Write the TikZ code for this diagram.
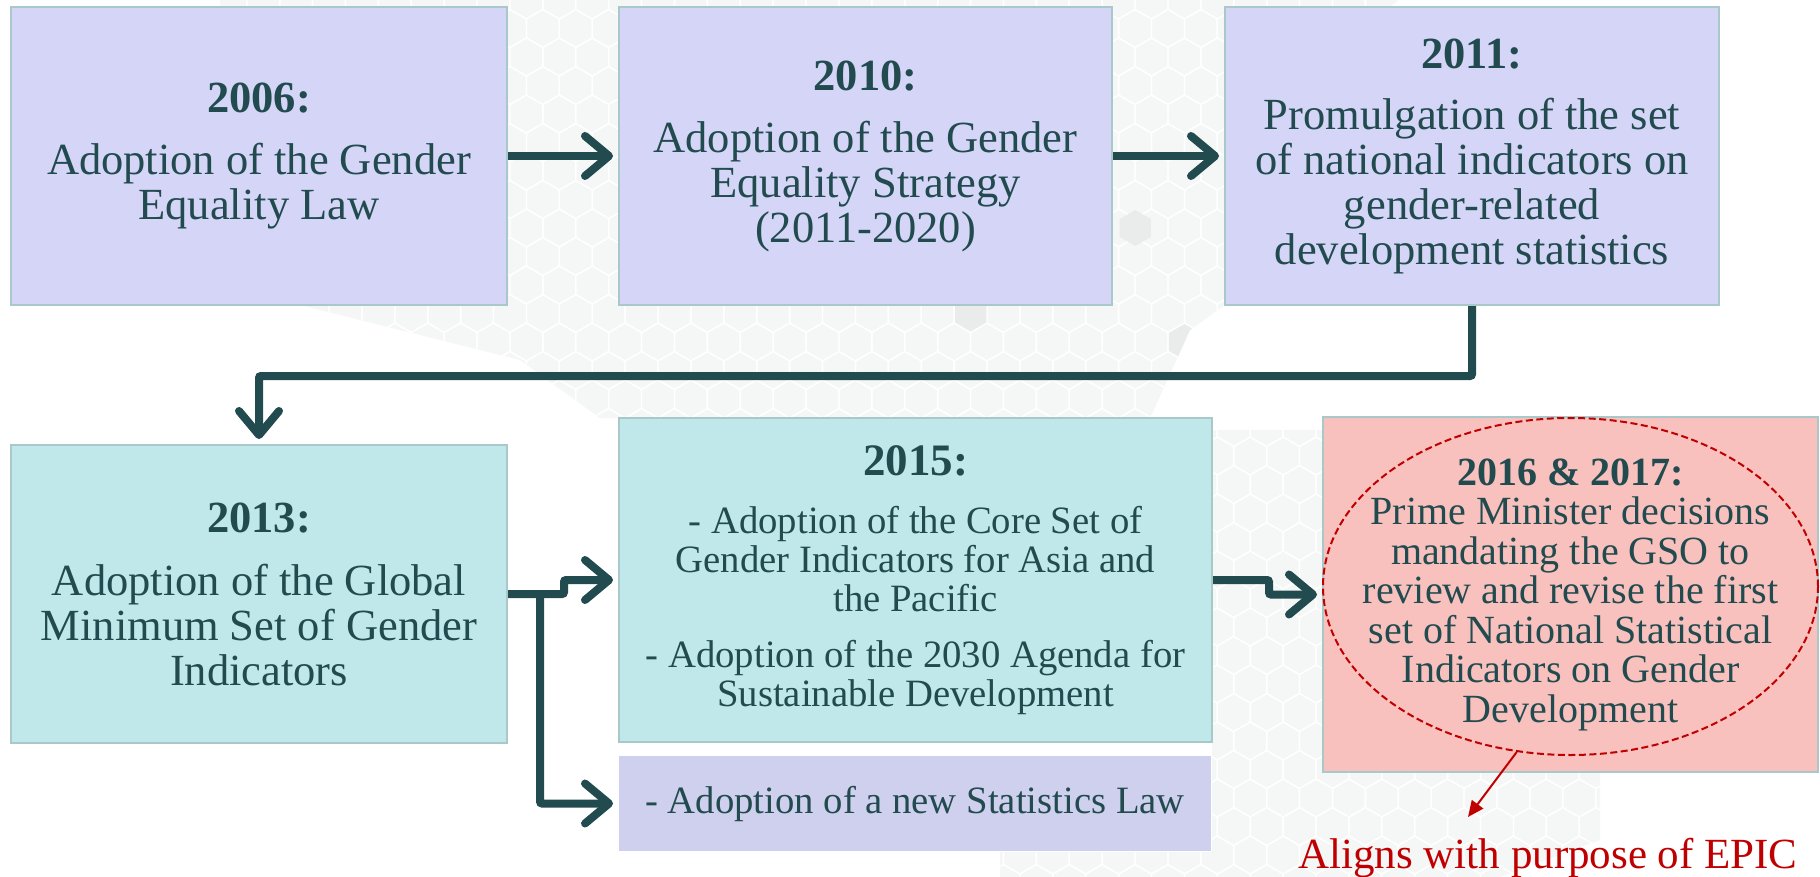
\documentclass[tikz,border=0pt]{standalone}
\usepackage{fontspec}
\setmainfont{Liberation Serif}
\usetikzlibrary{arrows.meta,calc,shapes.geometric}
\definecolor{txt}{RGB}{34,75,79}
\definecolor{lav}{RGB}{213,213,247}
\definecolor{cya}{RGB}{192,232,234}
\definecolor{lavb}{RGB}{207,207,238}
\definecolor{pnk}{RGB}{248,193,190}
\definecolor{bord}{RGB}{168,200,202}
\definecolor{redc}{RGB}{192,0,0}
\definecolor{hexbg}{RGB}{245,246,246}
\definecolor{hexdk}{RGB}{234,235,235}
\begin{document}
\begin{tikzpicture}[x=1pt,y=-1pt,
  box/.style={rectangle, draw=bord, line width=2pt, inner sep=0pt, align=center, text=txt,
              font=\fontsize{44.5}{45}\selectfont},
  conn/.style={draw=txt, line width=8pt, -{Straight Barb[length=24pt,width=40pt,round]},
               shorten >=5pt, rounded corners=2pt},
  redarrow/.style={draw=redc, line width=2pt, -{Triangle[length=16pt,width=14pt]}},
  hexcell/.style={draw=white, line width=1.3pt}
]
\useasboundingbox (0,0) rectangle (1820,877);
\fill[white] (0,0) rectangle (1820,877);

% faint hexagon background
\begin{scope}
  \clip (220,0) -- (1400,0) -- (1225,120) -- (1225,305) -- (1190,330) -- (1150,418)
        -- (600,418) -- (520,360) -- (400,330) -- (300,305) -- (230,200) -- cycle;
  \fill[hexbg] (0,0) rectangle (1820,877);
  \foreach \j in {0,...,15} {
    \foreach \i in {6,...,43} {
      \pgfmathsetmacro\cx{\i*32.9+mod(\j,2)*16.45}
      \pgfmathsetmacro\cy{\j*28.5}
      \draw[hexcell, shift={(\cx,\cy)}] (90:19) -- (150:19) -- (210:19) -- (270:19) -- (330:19) -- (30:19) -- cycle;
    }
  }
  \foreach \cx/\cy in {1135.2/228, 970.7/313.5, 1184.5/342} {
    \fill[hexdk, shift={(\cx,\cy)}] (90:18) -- (150:18) -- (210:18) -- (270:18) -- (330:18) -- (30:18) -- cycle;
  }
\end{scope}
\begin{scope}
  \clip (1212,430) -- (1323,430) -- (1323,772) -- (1600,772) -- (1600,840) -- (1500,877)
        -- (1000,877) -- (1000,852) -- (1212,852) -- cycle;
  \fill[hexbg] (0,0) rectangle (1820,877);
  \foreach \j in {14,...,31} {
    \foreach \i in {29,...,49} {
      \pgfmathsetmacro\cx{\i*32.9+mod(\j,2)*16.45}
      \pgfmathsetmacro\cy{\j*28.5}
      \draw[hexcell, shift={(\cx,\cy)}] (90:19) -- (150:19) -- (210:19) -- (270:19) -- (330:19) -- (30:19) -- cycle;
    }
  }
\end{scope}

% top row
\node[box, fill=lav, minimum width=496pt, minimum height=298pt] (b1) at (259,156)
  {\textbf{2006:}\\[17pt]Adoption of the Gender\\Equality Law};
\node[box, fill=lav, minimum width=493pt, minimum height=298pt] (b2) at (865.5,156)
  {\textbf{2010:}\\[17pt]Adoption of the Gender\\Equality Strategy\\(2011-2020)};
\node[box, fill=lav, minimum width=494pt, minimum height=298pt] (b3) at (1472,156)
  {\textbf{2011:}\\[16pt]Promulgation of the set\\of national indicators on\\gender-related\\development statistics};

% bottom row
\node[box, fill=cya, minimum width=496pt, minimum height=298pt] (b4) at (259,594)
  {\textbf{2013:}\\[18pt]Adoption of the Global\\Minimum Set of Gender\\Indicators};
\node[box, fill=cya, minimum width=593pt, minimum height=324pt, font=\fontsize{38.7}{39}\selectfont] (b5) at (915.5,580)
  {{\fontsize{45}{39}\selectfont\textbf{2015:}}\\[19pt]- Adoption of the Core Set of\\Gender Indicators for Asia and\\the Pacific\\[17pt]- Adoption of the 2030 Agenda for\\Sustainable Development};
\node[box, draw=none, fill=lavb, minimum width=592pt, minimum height=95pt, font=\fontsize{38.7}{39}\selectfont] (b6) at (915,803.5)
  {- Adoption of a new Statistics Law};
\node[box, fill=pnk, minimum width=495pt, minimum height=355pt, font=\fontsize{40}{39.5}\selectfont] (b7) at (1570.5,594.5)
  {\textbf{2016 \& 2017:}\\Prime Minister decisions\\mandating the GSO to\\review and revise the first\\set of National Statistical\\Indicators on Gender\\Development};
\node[ellipse, draw=redc, line width=2pt, dash pattern=on 7pt off 3.5pt, minimum width=495pt, minimum height=337pt, inner sep=0pt] (ell) at (1570.5,586.5) {};

\node[anchor=base, text=redc, font=\fontsize{43}{43}\selectfont, inner sep=0pt] (capt) at (1548,868) {Aligns with purpose of EPIC};
\coordinate (capttip) at (1468,817);

% connectors
\draw[conn] (b1) -- (b2);
\draw[conn] (b2) -- (b3);
\draw[conn] (b3.south) -- ++(0,70) -| (b4.north);
\draw[conn] (b4.east) -- ++(56,0) |- (b5.west);
\coordinate (split) at ($(b4.east)+(32,0)$);
\draw[conn] (split) |- (b6.west);
\draw[conn] (b5.east) -- ++(56,0) |- (b7.west);
\draw[redarrow] (ell.252) -- (capttip);
\end{tikzpicture}
\end{document}
